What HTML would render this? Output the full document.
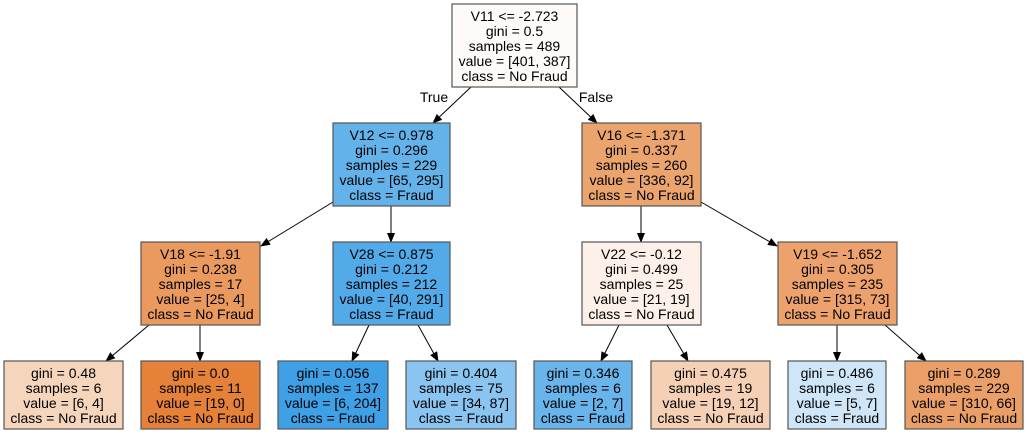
<!DOCTYPE html>
<html><head><meta charset="utf-8"><style>
html,body{margin:0;padding:0;background:#fff;}
svg{display:block;}
text{font-family:"Liberation Sans",Helvetica,Arial,sans-serif;font-size:14px;fill:#000;text-anchor:middle;}
rect{stroke:#555;stroke-width:1.2;}
line{stroke:#000;stroke-width:1;}
</style></head><body>
<svg width="1028" height="433" viewBox="0 0 1028 433" xmlns="http://www.w3.org/2000/svg">
<defs><marker id="a" markerWidth="10" markerHeight="8" refX="9" refY="4" orient="auto" markerUnits="userSpaceOnUse"><path d="M0,0 L10,4 L0,8 z" fill="#000"/></marker></defs>
<g>
<line x1="471" y1="87" x2="433" y2="123" marker-end="url(#a)"/>
<line x1="559" y1="87" x2="597" y2="123" marker-end="url(#a)"/>
<line x1="333" y1="202" x2="261" y2="246" marker-end="url(#a)"/>
<line x1="391" y1="206" x2="391" y2="242" marker-end="url(#a)"/>
<line x1="641" y1="206" x2="641" y2="242" marker-end="url(#a)"/>
<line x1="701" y1="202" x2="777" y2="246" marker-end="url(#a)"/>
<line x1="149" y1="325" x2="106" y2="361" marker-end="url(#a)"/>
<line x1="200" y1="325" x2="200" y2="361" marker-end="url(#a)"/>
<line x1="369" y1="325" x2="352" y2="361" marker-end="url(#a)"/>
<line x1="418" y1="325" x2="438" y2="361" marker-end="url(#a)"/>
<line x1="619" y1="325" x2="601" y2="361" marker-end="url(#a)"/>
<line x1="667" y1="325" x2="688" y2="361" marker-end="url(#a)"/>
<line x1="837" y1="325" x2="837" y2="361" marker-end="url(#a)"/>
<line x1="885" y1="325" x2="926" y2="361" marker-end="url(#a)"/>
</g>
<text x="434" y="102">True</text>
<text x="596" y="102">False</text>

<rect x="452" y="4" width="125" height="83" fill="#fefaf7"/>
<text x="514.5" y="21">V11 &lt;= -2.723</text><text x="514.5" y="36">gini = 0.5</text><text x="514.5" y="51">samples = 489</text><text x="514.5" y="66">value = [401, 387]</text><text x="514.5" y="81">class = No Fraud</text>

<rect x="333" y="123" width="117" height="83" fill="#63b2ea"/>
<text x="391.5" y="140">V12 &lt;= 0.978</text><text x="391.5" y="155">gini = 0.296</text><text x="391.5" y="170">samples = 229</text><text x="391.5" y="185">value = [65, 295]</text><text x="391.5" y="200">class = Fraud</text>

<rect x="582" y="123" width="119" height="83" fill="#eca46f"/>
<text x="641.5" y="140">V16 &lt;= -1.371</text><text x="641.5" y="155">gini = 0.337</text><text x="641.5" y="170">samples = 260</text><text x="641.5" y="185">value = [336, 92]</text><text x="641.5" y="200">class = No Fraud</text>

<rect x="141" y="242" width="119" height="83" fill="#eb9a5f"/>
<text x="200.5" y="259">V18 &lt;= -1.91</text><text x="200.5" y="274">gini = 0.238</text><text x="200.5" y="289">samples = 17</text><text x="200.5" y="304">value = [25, 4]</text><text x="200.5" y="319">class = No Fraud</text>

<rect x="333" y="242" width="117" height="83" fill="#53aae8"/>
<text x="391.5" y="259">V28 &lt;= 0.875</text><text x="391.5" y="274">gini = 0.212</text><text x="391.5" y="289">samples = 212</text><text x="391.5" y="304">value = [40, 291]</text><text x="391.5" y="319">class = Fraud</text>

<rect x="582" y="242" width="119" height="83" fill="#fdf0e8"/>
<text x="641.5" y="259">V22 &lt;= -0.12</text><text x="641.5" y="274">gini = 0.499</text><text x="641.5" y="289">samples = 25</text><text x="641.5" y="304">value = [21, 19]</text><text x="641.5" y="319">class = No Fraud</text>

<rect x="778" y="242" width="119" height="83" fill="#eda26d"/>
<text x="837.5" y="259">V19 &lt;= -1.652</text><text x="837.5" y="274">gini = 0.305</text><text x="837.5" y="289">samples = 235</text><text x="837.5" y="304">value = [315, 73]</text><text x="837.5" y="319">class = No Fraud</text>

<rect x="4" y="361" width="119" height="68" fill="#f6d5bd"/>
<text x="63.5" y="378">gini = 0.48</text><text x="63.5" y="393">samples = 6</text><text x="63.5" y="408">value = [6, 4]</text><text x="63.5" y="423">class = No Fraud</text>

<rect x="141" y="361" width="119" height="68" fill="#e58139"/>
<text x="200.5" y="378">gini = 0.0</text><text x="200.5" y="393">samples = 11</text><text x="200.5" y="408">value = [19, 0]</text><text x="200.5" y="423">class = No Fraud</text>

<rect x="278" y="361" width="110" height="68" fill="#3fa0e6"/>
<text x="333" y="378">gini = 0.056</text><text x="333" y="393">samples = 137</text><text x="333" y="408">value = [6, 204]</text><text x="333" y="423">class = Fraud</text>

<rect x="406" y="361" width="110" height="68" fill="#89c5f0"/>
<text x="461" y="378">gini = 0.404</text><text x="461" y="393">samples = 75</text><text x="461" y="408">value = [34, 87]</text><text x="461" y="423">class = Fraud</text>

<rect x="534" y="361" width="98" height="68" fill="#69b5eb"/>
<text x="583" y="378">gini = 0.346</text><text x="583" y="393">samples = 6</text><text x="583" y="408">value = [2, 7]</text><text x="583" y="423">class = Fraud</text>

<rect x="651" y="361" width="119" height="68" fill="#f5d0b5"/>
<text x="710.5" y="378">gini = 0.475</text><text x="710.5" y="393">samples = 19</text><text x="710.5" y="408">value = [19, 12]</text><text x="710.5" y="423">class = No Fraud</text>

<rect x="788" y="361" width="98" height="68" fill="#cee6f8"/>
<text x="837" y="378">gini = 0.486</text><text x="837" y="393">samples = 6</text><text x="837" y="408">value = [5, 7]</text><text x="837" y="423">class = Fraud</text>

<rect x="905" y="361" width="118" height="68" fill="#eb9f68"/>
<text x="964" y="378">gini = 0.289</text><text x="964" y="393">samples = 229</text><text x="964" y="408">value = [310, 66]</text><text x="964" y="423">class = No Fraud</text>
</svg>
</body></html>
